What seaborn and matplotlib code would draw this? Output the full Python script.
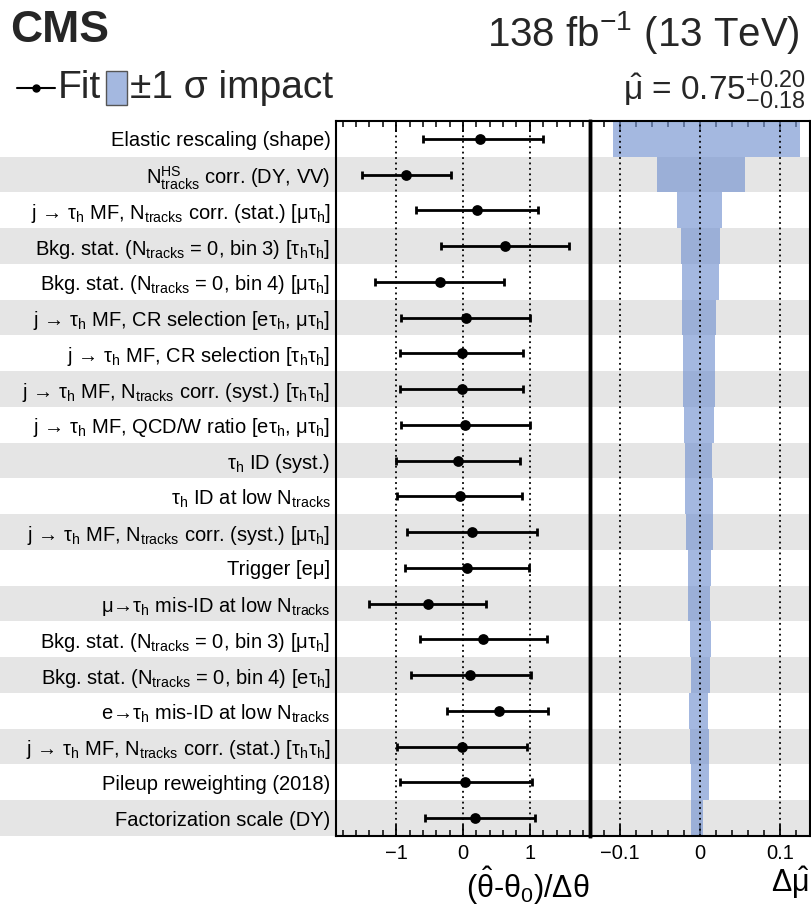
import numpy as np
import pandas as pd
import seaborn as sns
import matplotlib.pyplot as plt
from matplotlib.lines import Line2D
from matplotlib.patches import Rectangle
from matplotlib.ticker import MultipleLocator

# nuisance parameters, top to bottom
labels = [
    "Elastic rescaling (shape)",
    "N$^{HS}_{tracks}$ corr. (DY, VV)",
    "j → τ$_h$ MF, N$_{tracks}$ corr. (stat.) [μτ$_h$]",
    "Bkg. stat. (N$_{tracks}$ = 0, bin 3) [τ$_h$τ$_h$]",
    "Bkg. stat. (N$_{tracks}$ = 0, bin 4) [μτ$_h$]",
    "j → τ$_h$ MF, CR selection [eτ$_h$, μτ$_h$]",
    "j → τ$_h$ MF, CR selection [τ$_h$τ$_h$]",
    "j → τ$_h$ MF, N$_{tracks}$ corr. (syst.) [τ$_h$τ$_h$]",
    "j → τ$_h$ MF, QCD/W ratio [eτ$_h$, μτ$_h$]",
    "τ$_h$ ID (syst.)",
    "τ$_h$ ID at low N$_{tracks}$",
    "j → τ$_h$ MF, N$_{tracks}$ corr. (syst.) [μτ$_h$]",
    "Trigger [eμ]",
    "μ→τ$_h$ mis-ID at low N$_{tracks}$",
    "Bkg. stat. (N$_{tracks}$ = 0, bin 3) [μτ$_h$]",
    "Bkg. stat. (N$_{tracks}$ = 0, bin 4) [eτ$_h$]",
    "e→τ$_h$ mis-ID at low N$_{tracks}$",
    "j → τ$_h$ MF, N$_{tracks}$ corr. (stat.) [τ$_h$τ$_h$]",
    "Pileup reweighting (2018)",
    "Factorization scale (DY)",
]

# pulls (theta_hat - theta0)/dtheta with -/+ 1 sigma ends
pull = [0.26, -0.855, 0.21, 0.625, -0.345, 0.04, -0.015, -0.015, 0.035, -0.075,
        -0.05, 0.14, 0.055, -0.525, 0.305, 0.11, 0.54, -0.01, 0.035, 0.18]
pull_lo = [-0.60, -1.515, -0.71, -0.335, -1.31, -0.925, -0.945, -0.945, -0.93, -1.005,
           -0.985, -0.835, -0.87, -1.41, -0.64, -0.785, -0.235, -0.985, -0.945, -0.575]
pull_hi = [1.19, -0.185, 1.125, 1.59, 0.615, 1.0, 0.905, 0.905, 1.005, 0.855,
           0.88, 1.11, 0.99, 0.35, 1.25, 1.01, 1.275, 0.96, 1.025, 1.07]

# impacts on mu
impact_lo = [-0.1087, -0.053, -0.0281, -0.0232, -0.022, -0.022, -0.0207, -0.0207, -0.0195, -0.0182,
             -0.0182, -0.017, -0.0145, -0.0145, -0.012, -0.0108, -0.0133, -0.012, -0.0108, -0.0108]
impact_hi = [0.124, 0.0558, 0.0273, 0.0248, 0.0239, 0.0198, 0.019, 0.019, 0.0177, 0.0153,
             0.0165, 0.0165, 0.014, 0.0128, 0.014, 0.0128, 0.0103, 0.0116, 0.0116, 0.004]

n = len(labels)
df = pd.DataFrame({"pos": np.arange(n), "pull": pull, "lo": pull_lo, "hi": pull_hi,
                   "imp_lo": impact_lo, "imp_hi": impact_hi})

sns.set_theme(style="ticks")
plt.rcParams["font.family"] = ["Liberation Sans", "DejaVu Sans"]
plt.rcParams["mathtext.default"] = "regular"

W, H = 811, 906
fig = plt.figure(figsize=(W / 100, H / 100), dpi=100)

ax_top, ax_bot = 121, 836
bottom = 1 - ax_bot / H
height = (ax_bot - ax_top) / H

# striped background over the full width
bg = fig.add_axes([0, bottom, 1, height])
bg.set_xlim(0, 1)
bg.set_ylim(n - 0.5, -0.5)
for i in range(1, n, 2):
    bg.axhspan(i - 0.5, i + 0.5, color="#e5e5e5", lw=0)
bg.axis("off")
bg.set_zorder(0)

ax1 = fig.add_axes([336 / W, bottom, (590 - 336) / W, height])
ax2 = fig.add_axes([590 / W, bottom, (810 - 590) / W, height])
for ax in (ax1, ax2):
    ax.set_zorder(1)
    ax.patch.set_visible(False)

# impacts
blue = "#7493d0"
sns.barplot(data=df, x="imp_hi", y="pos", orient="h", color=blue, alpha=0.65,
            saturation=1, width=1.0, linewidth=0, ax=ax2)
sns.barplot(data=df, x="imp_lo", y="pos", orient="h", color=blue, alpha=0.65,
            saturation=1, width=1.0, linewidth=0, ax=ax2)

# pulls
ax1.errorbar(df["pull"], df["pos"], xerr=[df["pull"] - df["lo"], df["hi"] - df["pull"]],
             fmt="none", ecolor="black", elinewidth=2, capsize=3, capthick=2, zorder=3)
sns.scatterplot(data=df, x="pull", y="pos", color="black", s=60, edgecolor="black",
                linewidth=0, zorder=4, ax=ax1)

for ax, lines in ((ax1, (-1, 0, 1)), (ax2, (-0.1, 0, 0.1))):
    for v in lines:
        ax.axvline(v, color="black", ls=(0, (1, 2)), lw=1.3, zorder=2)
    ax.set_ylim(n - 0.5, -0.5)
    ax.set_ylabel("")
    ax.tick_params(axis="y", length=0)
    for s in ax.spines.values():
        s.set_linewidth(1.5)
        s.set_color("black")

ax1.set_xlim(-1.9, 1.9)
ax1.set_xticks([-1, 0, 1], ["−1", "0", "1"])
ax1.xaxis.set_minor_locator(MultipleLocator(0.2))
ax1.set_yticks(range(n), labels, fontsize=14.5, color="black")
ax1.tick_params(axis="y", pad=4)
ax1.spines["right"].set_linewidth(2.5)

ax2.set_xlim(-0.137, 0.137)
ax2.set_xticks([-0.1, 0, 0.1], ["−0.1", "0", "0.1"])
ax2.xaxis.set_minor_locator(MultipleLocator(0.02))
ax2.set_yticks([])
ax2.spines["left"].set_linewidth(2.5)

for ax in (ax1, ax2):
    ax.tick_params(axis="x", which="both", direction="in", top=True, bottom=True,
                   color="black", labelcolor="black", labelsize=14.5, pad=6)
    ax.tick_params(axis="x", which="major", length=8, width=1.3)
    ax.tick_params(axis="x", which="minor", length=4, width=1.1)

ax1.set_xlabel(r"($\hat{θ}$-θ$_0$)/Δθ", fontsize=22, loc="right", labelpad=1, color="black")
ax2.set_xlabel(r"Δ$\hat{μ}$", fontsize=22, loc="right", labelpad=1, color="black")

# header
fig.text(10 / W, 1 - 30 / H, "CMS", fontsize=32, fontweight="bold", va="center")
fig.text(800 / W, 1 - 32 / H, "138 fb$^{−1}$ (13 TeV)", fontsize=29, ha="right", va="center")
fig.text(806 / W, 1 - 90 / H, r"$\hat{μ}$ = 0.75$^{+0.20}_{−0.18}$", fontsize=24,
         ha="right", va="center")

yl = 1 - 88 / H
fig.add_artist(Line2D([17 / W, 55 / W], [yl, yl], color="black", lw=1.5))
fig.add_artist(Line2D([36 / W], [yl], color="black", marker="o", ms=5))
t_fit = fig.text(58 / W, yl, "Fit", fontsize=28, va="center")
fig.canvas.draw()
box_x = t_fit.get_window_extent().x1 / W + 5 / W
fig.add_artist(Rectangle((box_x, 1 - 105 / H), 21 / W, 34 / H, transform=fig.transFigure,
                         facecolor="#a4b8e0", edgecolor="#555555", lw=1))
fig.text(box_x + 24 / W, yl, "±1 σ impact", fontsize=28, va="center")

fig.savefig("out.png", dpi=100)
